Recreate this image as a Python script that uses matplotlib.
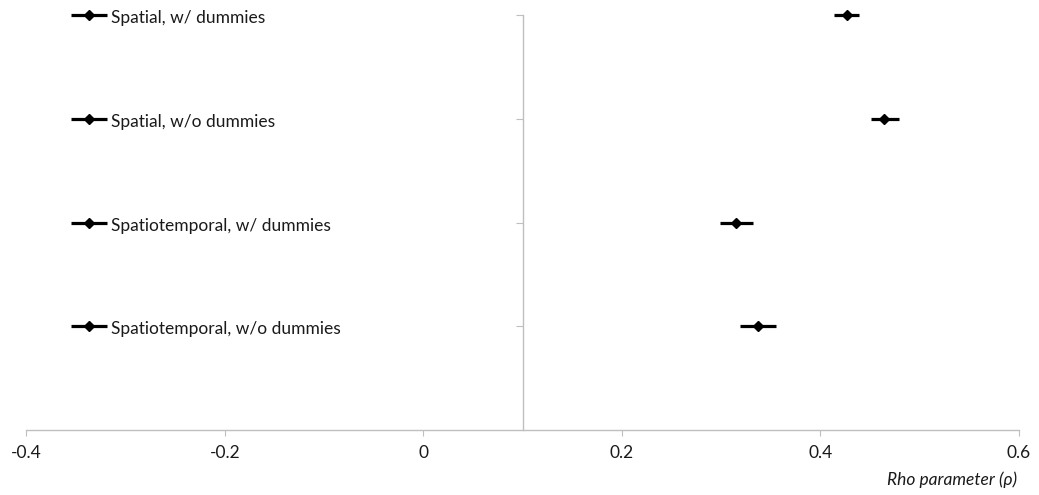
import matplotlib
matplotlib.use("Agg")
import matplotlib.pyplot as plt
import matplotlib.transforms as mtransforms

plt.rcParams['font.family'] = ['Lato', 'DejaVu Sans']

# rho estimates with their confidence bounds, top row first
labels = ["Spatial, w/ dummies",
          "Spatial, w/o dummies",
          "Spatiotemporal, w/ dummies",
          "Spatiotemporal, w/o dummies"]
rho = [0.427, 0.464, 0.315, 0.337]
rho_low = [0.414, 0.451, 0.299, 0.319]
rho_high = [0.439, 0.479, 0.332, 0.355]

xticks = [-0.4, -0.2, 0, 0.2, 0.4, 0.6]
xtick_labels = ["-0.4", "-0.2", "0", "0.2", "0.4", "0.6"]

axis_grey = "#bfbfbf"
text_col = "#1a1a1a"

fig = plt.figure(figsize=(10.39, 4.95), dpi=100)
ax = fig.add_axes([0.0255, 0.1313, 0.9552, 0.8384])

ypos = [len(labels) - i for i in range(len(labels))]
for y, v, lo, hi in zip(ypos, rho, rho_low, rho_high):
    eb = ax.errorbar([v], [y], xerr=[[v - lo], [hi - v]], fmt='D', color='black',
                     ecolor='black', elinewidth=2.3, markersize=5, capsize=0)
    for artist in eb.get_children():
        artist.set_clip_on(False)

# key entries beside each row (line with diamond + label)
trans = mtransforms.blended_transform_factory(ax.transAxes, ax.transData)
for y, lab in zip(ypos, labels):
    ax.plot([0.0445, 0.0815], [y, y], color='black', lw=2.3, transform=trans,
            solid_capstyle='butt', clip_on=False)
    ax.plot([0.063], [y], marker='D', color='black', markersize=5,
            transform=trans, clip_on=False)
    ax.text(0.0855, y - 0.03, lab, transform=trans, ha='left', va='center',
            fontsize=12.5, color=text_col)

ax.set_xlim(-0.4, 0.6)
ax.set_ylim(0, 4)
ax.set_xticks(xticks)
ax.set_xticklabels(xtick_labels)
ax.set_yticks(ypos)
ax.set_yticklabels([])

ax.spines['top'].set_visible(False)
ax.spines['right'].set_visible(False)
ax.spines['left'].set_position(('data', 0.1))
for s in ('left', 'bottom'):
    ax.spines[s].set_color(axis_grey)
    ax.spines[s].set_linewidth(1.0)
ax.tick_params(axis='x', direction='out', length=4, color=axis_grey,
               labelsize=12.5, labelcolor=text_col, pad=7)
ax.tick_params(axis='y', direction='out', length=5, color=axis_grey)

fig.text(0.9790, 0.014, "Rho parameter (\u03c1)", ha='right', va='bottom',
         fontsize=12.5, style='italic', color=text_col)

fig.savefig("out.png", dpi=100)
